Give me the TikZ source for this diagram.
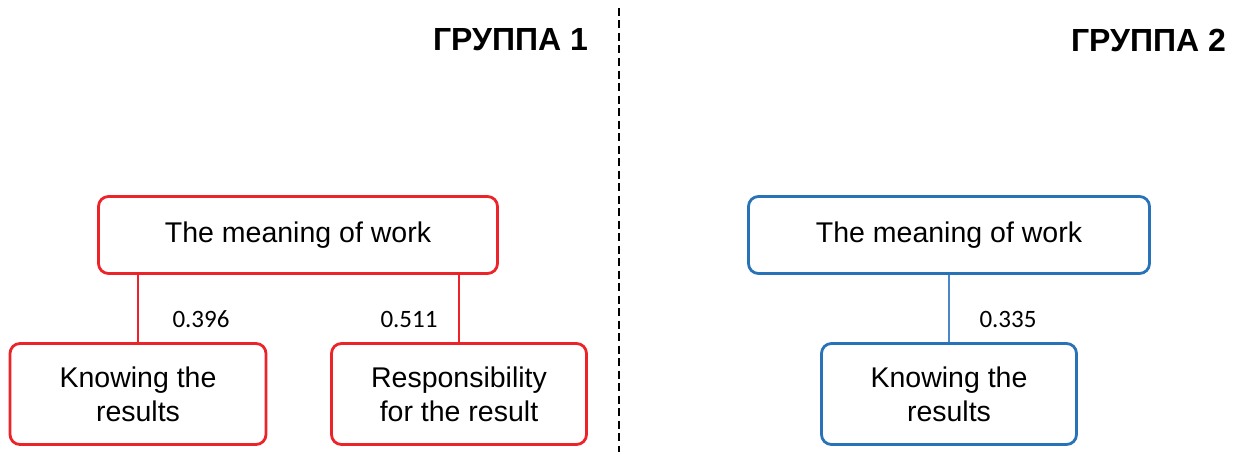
\documentclass[tikz,border=0pt]{standalone}
\usepackage{fontspec}
\setmainfont{Liberation Sans}
\newfontfamily\numfont{Carlito}
\definecolor{redc}{RGB}{236,36,42}
\definecolor{bluec}{RGB}{40,114,184}
\definecolor{bluel}{RGB}{74,134,200}
\begin{document}
\begin{tikzpicture}[x=1pt,y=-1pt,
  box/.style={draw,line width=2.8pt,rounded corners=10pt,align=center,inner sep=0pt,
    font=\fontsize{28.5}{34}\selectfont},
  redbox/.style={box,draw=redc},
  bluebox/.style={box,draw=bluec},
  wlabel/.style={font=\numfont\fontsize{25}{30}\selectfont,inner sep=0pt},
  title/.style={font=\bfseries\fontsize{32}{38}\selectfont,inner sep=0pt,anchor=east},
  redline/.style={draw=redc,line width=2.8pt},
  blueline/.style={draw=bluel,line width=2.8pt}]
\useasboundingbox (0,0) rectangle (1236,452);
\fill[white] (0,0) rectangle (1236,452);
% divider
\coordinate (dtop) at (619,8);
\coordinate (dbot) at (619,452);
\draw[line width=2pt,dash pattern=on 8pt off 4.5pt] (dtop) -- (dbot);
% titles
\node[title] (t1) at (588,40) {ГРУППА 1};
\node[title] (t2) at (1226,40) {ГРУППА 2};
% group 1
\node[redbox,minimum width=399,minimum height=77] (rtop) at (298,235) {The meaning of work};
\node[redbox,minimum width=256,minimum height=101] (rl) at (138,394) {Knowing the\\results};
\node[redbox,minimum width=255,minimum height=101] (rr) at (459,394) {Responsibility\\for the result};
\draw[redline] (rl.north) -- (rl.north |- rtop.south);
\draw[redline] (rr.north) -- (rr.north |- rtop.south);
\node[wlabel] (l1) at (201,319) {0.396};
\node[wlabel] (l2) at (409,319) {0.511};
% group 2
\node[bluebox,minimum width=401,minimum height=77] (btop) at (949,235) {The meaning of work};
\node[bluebox,minimum width=255,minimum height=101] (bc) at (949,394) {Knowing the\\results};
\draw[blueline] (bc.north) -- (btop.south);
\node[wlabel] (l3) at (1008,319) {0.335};
\end{tikzpicture}
\end{document}
